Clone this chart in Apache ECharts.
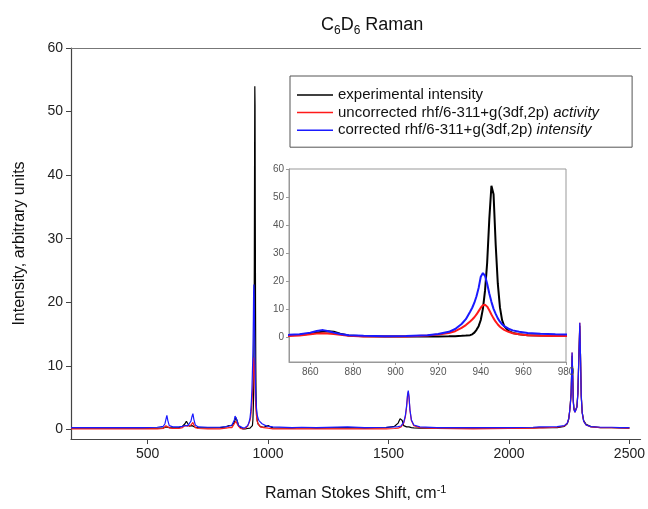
<!DOCTYPE html>
<html><head><meta charset="utf-8">
<script src="https://cdn.jsdelivr.net/npm/echarts@6/dist/echarts.min.js"></script>
<style>html,body{margin:0;padding:0;background:#fff}#c{width:648px;height:509px}</style>
</head><body><div id="c"></div>
<script>
// Raman shift (cm-1)
const shift = [182,300,400,480,540,565,572,576,580,584,590,605,630,645,655,661,667,674,680,684,688,692,698,710,750,800,825,838,
846,850,855,860,863,866,868,871,874,878,885,895,905,915,920,925,928,931,933,935,936,937,938,939,940,941,942,943,944,945,946,947,948,949,950,951,953,955,958,962,968,975,982,
990,1000,1006,1020,1100,1140,1200,1330,1400,1490,1525,1540,1548,1552,1557,1563,1570,1575,1579,1582,1585,1589,1595,1605,1630,1700,1850,2000,2100,2125,2132,2140,2200,2230,
2242,2248,2252,2255,2258,2260,2262,2264,2267,2270,2274,2278,2282,2286,2290,2294,2297,2300,2304,2310,2320,2340,2380,2410,2418,2426,2460,2500];
// experimental intensity
const experimental = [0.2,0.2,0.2,0.2,0.2,0.25,0.3,0.4,0.5,0.4,0.3,0.25,0.3,0.5,0.9,1.3,0.9,0.5,0.5,0.6,0.6,0.5,0.35,0.3,0.25,0.3,0.4,0.6,
0.8,0.6,0.7,1.1,1.5,1.9,2.0,1.8,1.1,0.5,0.2,0.1,0.1,0.15,0.15,0.2,0.25,0.35,0.45,0.6,0.9,1.5,2.5,3.8,6.0,10.0,16.5,26.5,42.0,54.0,51.0,33.0,19.0,10.5,6.0,3.8,2.1,1.4,0.9,0.6,0.45,0.4,0.35,
0.4,0.6,0.4,0.25,0.2,0.3,0.2,0.3,0.2,0.3,0.5,1.0,1.7,1.9,1.4,0.6,0.4,0.4,0.5,0.5,0.4,0.3,0.3,0.25,0.2,0.2,0.2,0.2,0.25,0.3,0.5,0.3,0.3,0.5,
0.9,1.6,2.9,4.2,5.8,8.5,11.6,9.5,4.6,3.2,2.8,2.9,3.6,5.8,11.5,16.3,11.5,5.4,2.7,1.4,0.8,0.45,0.3,0.3,0.5,0.3,0.25,0.2];
// uncorrected rhf/6-311+g(3df,2p) activity
const uncorrected = [0.1,0.1,0.1,0.1,0.1,0.15,0.3,0.6,0.9,0.6,0.25,0.15,0.15,0.3,0.6,0.75,0.5,0.4,0.7,1.0,1.1,0.7,0.3,0.15,0.1,0.1,0.2,0.3,
0.25,0.3,0.5,0.9,1.2,1.3,1.2,1.0,0.7,0.4,0.15,0.1,0.15,0.5,0.8,1.4,2.0,3.2,4.2,5.5,6.2,7.0,8.0,9.2,10.4,11.3,11.5,10.8,9.5,8.0,6.6,5.4,4.4,3.6,3.0,2.5,1.8,1.3,0.9,0.6,0.4,0.3,0.3,
0.25,0.2,0.15,0.1,0.1,0.1,0.1,0.1,0.1,0.1,0.15,0.2,0.3,0.4,0.6,1.0,2.0,3.5,5.3,5.9,5.0,3.0,1.4,0.6,0.3,0.15,0.1,0.15,0.2,0.25,0.45,0.25,0.35,0.55,
1.0,1.7,2.9,4.1,5.6,8.8,12.1,9.2,4.3,3.1,2.7,2.8,3.5,5.6,11.2,16.8,11.3,5.2,2.6,1.3,0.7,0.4,0.3,0.3,0.45,0.3,0.25,0.2];
// corrected rhf/6-311+g(3df,2p) intensity
const corrected = [0.3,0.3,0.3,0.3,0.35,0.5,0.9,1.6,2.2,1.4,0.6,0.4,0.4,0.5,0.6,0.7,0.6,0.7,1.3,2.0,2.5,1.6,0.7,0.4,0.35,0.35,0.45,0.55,
0.6,0.7,0.9,1.5,2.1,2.4,2.1,1.5,1.0,0.6,0.35,0.25,0.3,0.6,1.0,1.8,2.8,4.6,6.3,9.0,10.4,12.2,14.5,17.5,21.5,22.8,21.8,19.0,15.5,12.5,10.0,8.2,6.6,5.4,4.5,3.8,2.9,2.3,1.8,1.4,1.1,0.9,0.8,
0.6,0.5,0.45,0.4,0.3,0.35,0.3,0.4,0.3,0.35,0.4,0.45,0.5,0.55,0.7,1.1,2.2,3.7,5.5,6.1,5.2,3.1,1.5,0.7,0.4,0.3,0.3,0.3,0.35,0.4,0.6,0.4,0.45,0.6,
1.0,1.7,2.9,4.1,5.6,8.8,12.1,9.2,4.3,3.1,2.7,2.8,3.5,5.6,11.2,16.8,11.3,5.2,2.6,1.3,0.7,0.45,0.35,0.35,0.5,0.35,0.3,0.3];

const seriesNames = ['experimental intensity','uncorrected rhf/6-311+g(3df,2p) activity','corrected rhf/6-311+g(3df,2p) intensity'];
const seriesColors = ['#000000','#ff1a1a','#1a1aff'];
const mainXTicks = [500,1000,1500,2000,2500];
const mainYTicks = [0,10,20,30,40,50,60];
const insetXTicks = [860,880,900,920,940,960,980];
const insetYTicks = [0,10,20,30,40,50,60];

const valueSets = [experimental, uncorrected, corrected];
const pairs = arr => shift.map((x, i) => [x, arr[i]]);
const plain = v => String(v);

const FONT = 'Liberation Sans, Arial, sans-serif';
const series = [];
valueSets.forEach((vals, k) => {
  series.push({name: seriesNames[k], type: 'line', xAxisIndex: 0, yAxisIndex: 0, data: pairs(vals),
    showSymbol: false, symbol: 'none', color: seriesColors[k], lineStyle: {width: 1.2, color: seriesColors[k]}, z: 2 + k});
});
valueSets.forEach((vals, k) => {
  series.push({name: seriesNames[k], type: 'line', xAxisIndex: 2, yAxisIndex: 1, data: pairs(vals),
    showSymbol: false, symbol: 'none', color: seriesColors[k], lineStyle: {width: 2, color: seriesColors[k]}, z: 10 + k, clip: true});
});

const chart = echarts.init(document.getElementById('c'), null, {renderer: 'canvas'});
chart.setOption({
  animation: false,
  backgroundColor: '#fff',
  textStyle: {fontFamily: FONT},
  title: {
    text: 'C{s|6}D{s|6} Raman', left: 316, top: 8,
    textStyle: {fontFamily: FONT, fontSize: 18, fontWeight: 'normal', color: '#111', lineHeight: 24,
      rich: {s: {fontFamily: FONT, fontSize: 12, lineHeight: 12, verticalAlign: 'bottom', color: '#111'}}}
  },
  legend: {
    data: seriesNames, orient: 'vertical', left: 290, top: 76,
    padding: [11, 33, 9, 7], itemGap: 1.6, itemWidth: 36, itemHeight: 1.5, icon: 'rect',
    borderColor: '#555', borderWidth: 1, backgroundColor: '#fff',
    formatter: name => name.replace(/ (activity|intensity)$/, ' {it|$1}').replace(/^experimental \{it\|intensity\}$/, 'experimental intensity'),
    textStyle: {fontFamily: FONT, fontSize: 15, color: '#111', lineHeight: 16,
      rich: {it: {fontFamily: FONT, fontSize: 15, fontStyle: 'italic', color: '#111', lineHeight: 16}}}
  },
  grid: [
    {left: 71, top: 48, width: 572, height: 402, show: false},
    {left: 289, top: 169, width: 277, height: 193, show: true, borderColor: '#999', borderWidth: 1, backgroundColor: '#fff', z: 8}
  ],
  xAxis: [
    {type: 'value', gridIndex: 0, min: 182, max: 2546, position: 'bottom',
      name: 'Raman Stokes Shift, cm{sup|-1}', nameLocation: 'middle', nameGap: 45,
      nameTextStyle: {fontFamily: FONT, fontSize: 16, color: '#111', lineHeight: 20,
        rich: {sup: {fontFamily: FONT, fontSize: 11, lineHeight: 11, verticalAlign: 'top', color: '#111'}}},
      axisLine: {show: true, onZero: false, lineStyle: {color: '#444', width: 1.2}},
      axisTick: {show: true, inside: false, length: 5, customValues: mainXTicks, lineStyle: {color: '#444'}},
      axisLabel: {show: true, customValues: mainXTicks, formatter: plain, fontFamily: FONT, fontSize: 14, color: '#222', margin: 8},
      splitLine: {show: false}},
    {type: 'value', gridIndex: 0, min: 182, max: 2546, position: 'top',
      axisLine: {show: true, onZero: false, lineStyle: {color: '#777', width: 1.2}},
      axisTick: {show: false}, axisLabel: {show: false}, splitLine: {show: false}},
    {type: 'value', gridIndex: 1, min: 850, max: 980, position: 'bottom', z: 9,
      axisLine: {show: true, onZero: false, lineStyle: {color: '#999', width: 1}},
      axisTick: {show: true, length: 3, customValues: insetXTicks, lineStyle: {color: '#999'}},
      axisLabel: {show: true, customValues: insetXTicks, formatter: plain, fontFamily: FONT, fontSize: 10, color: '#555', margin: 5},
      splitLine: {show: false}}
  ],
  yAxis: [
    {type: 'value', gridIndex: 0, min: -1.5, max: 60,
      name: 'Intensity, arbitrary units', nameLocation: 'middle', nameGap: 43,
      nameTextStyle: {fontFamily: FONT, fontSize: 16, color: '#111'},
      axisLine: {show: true, onZero: false, lineStyle: {color: '#444', width: 1.2}},
      axisTick: {show: true, length: 5, customValues: mainYTicks, lineStyle: {color: '#444'}},
      axisLabel: {show: true, customValues: mainYTicks, formatter: plain, fontFamily: FONT, fontSize: 14, color: '#222', margin: 8},
      splitLine: {show: false}},
    {type: 'value', gridIndex: 1, min: -9, max: 60, z: 9,
      axisLine: {show: true, onZero: false, lineStyle: {color: '#999', width: 1}},
      axisTick: {show: true, length: 3, customValues: insetYTicks, lineStyle: {color: '#999'}},
      axisLabel: {show: true, customValues: insetYTicks, formatter: plain, fontFamily: FONT, fontSize: 10, color: '#555', margin: 5},
      splitLine: {show: false}}
  ],
  series: series
});
</script>
</body></html>
